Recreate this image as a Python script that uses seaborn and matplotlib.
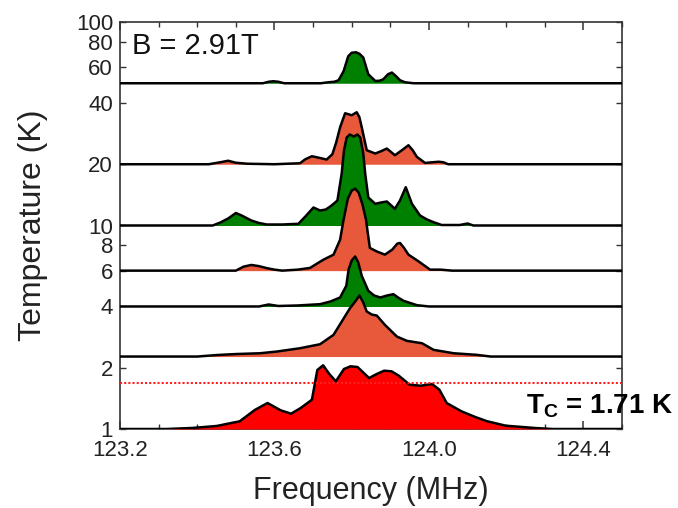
import numpy as np
import pandas as pd
import matplotlib
matplotlib.use("Agg")
import matplotlib.pyplot as plt
import seaborn as sns
from matplotlib.ticker import FixedLocator, FixedFormatter, NullLocator, MultipleLocator

# ---------------- data ----------------
# baseline temperatures (K) of each spectrum, top to bottom
temps = [50, 20, 10, 6, 4, 2.27, 1.0]
fill_colors = ["#008000", "#E8593C", "#008000", "#E8593C", "#008000", "#E8593C", "#FF0000"]

freq_50K = [123.2, 123.57, 123.585, 123.597, 123.61, 123.625, 123.72, 123.74, 123.755, 123.766,
            123.779, 123.791, 123.80, 123.811, 123.82, 123.83, 123.843, 123.861, 123.872, 123.882,
            123.894, 123.904, 123.915, 123.925, 123.938, 123.96, 124.5]
int_50K = [0, 0, 1.5, 2, 1.5, 0, 0, 1, 1.5, 3, 12, 27, 30.5, 31, 29.5, 25.7, 9, 2.3, 2.5, 4, 9,
           10.7, 7, 3, 1, 0, 0]

freq_20K = [123.2, 123.43, 123.46, 123.48, 123.50, 123.53, 123.60, 123.666, 123.68, 123.697,
            123.715, 123.735, 123.75, 123.76, 123.77, 123.783, 123.80, 123.813, 123.82, 123.826,
            123.839, 123.861, 123.876, 123.891, 123.912, 123.93, 123.947, 123.958, 123.969, 123.99,
            124.01, 124.025, 124.037, 124.05, 124.5]
int_20K = [0, 0, 2, 3.5, 1.5, 0.5, 0, 1, 5, 8, 6.5, 4.7, 10, 22, 37, 51, 49, 52, 47, 37, 14,
           10.7, 13, 15.7, 9, 14, 19, 14, 7.3, 1.3, 2, 2.5, 2, 0, 0]

freq_10K = [123.2, 123.44, 123.46, 123.48, 123.50, 123.515, 123.54, 123.56, 123.58, 123.62,
            123.662, 123.68, 123.701, 123.718, 123.733, 123.748, 123.763, 123.774, 123.78, 123.787,
            123.795, 123.805, 123.815, 123.822, 123.83, 123.835, 123.843, 123.861, 123.876,
            123.891, 123.912, 123.925, 123.94, 123.956, 123.977, 123.995, 124.012, 124.033,
            124.08, 124.10, 124.115, 124.5]
int_10K = [0, 0, 3, 7, 12.5, 10, 5, 2.5, 1, 1, 1.7, 9, 18, 15, 16, 20, 25, 51.7, 75, 88, 91, 89,
           91, 88, 72, 51.7, 28, 21.7, 23, 24, 16.7, 25, 38.3, 21.7, 10, 6, 3.3, 0.5, 0.5, 2, 0, 0]

freq_6K = [123.2, 123.50, 123.52, 123.54, 123.56, 123.58, 123.60, 123.62, 123.66, 123.692,
           123.71, 123.727, 123.753, 123.770, 123.779, 123.79, 123.80, 123.809, 123.818, 123.828,
           123.837, 123.847, 123.866, 123.886, 123.905, 123.918, 123.925, 123.935, 123.947,
           123.973, 124.003, 124.03, 124.06, 124.5]
int_6K = [0, 0, 4, 5.7, 4.5, 2.5, 1, 0, 1, 2.7, 7, 11, 16, 31, 51, 72, 80, 82, 78, 66, 51, 22.7,
          19, 16, 21, 27, 27.7, 23, 16, 9.3, 1, 1, 0, 0]

freq_4K = [123.2, 123.56, 123.585, 123.61, 123.66, 123.718, 123.745, 123.77, 123.786, 123.792,
           123.80, 123.809, 123.817, 123.826, 123.843, 123.858, 123.874, 123.892, 123.908,
           123.92, 123.934, 123.969, 124.0, 124.5]
int_4K = [0, 0, 2, 0.5, 1, 2.3, 5, 9, 20.7, 37, 46, 50, 44, 30.7, 15.7, 11, 9, 11, 12.3, 9, 5.7,
          1.3, 0, 0]

freq_2K = [123.2, 123.40, 123.45, 123.50, 123.563, 123.606, 123.666, 123.718, 123.753, 123.779,
           123.795, 123.809, 123.82, 123.83, 123.839, 123.852, 123.865, 123.886, 123.917, 123.943,
           123.982, 124.012, 124.064, 124.124, 124.16, 124.5]
int_2K = [0, 0, 1.5, 2.5, 3.3, 5, 8.3, 12.3, 21.7, 38, 48, 55, 61, 54, 45, 42, 41, 31.7, 20, 15.7,
          13.3, 6.7, 3.3, 1.7, 0, 0]

freq_1K = [123.2, 123.32, 123.386, 123.45, 123.51, 123.549, 123.582, 123.616, 123.643, 123.668,
           123.697, 123.711, 123.726, 123.742, 123.759, 123.78, 123.797, 123.815, 123.845, 123.865,
           123.884, 123.903, 123.922, 123.95, 123.979, 124.008, 124.027, 124.046, 124.084, 124.12,
           124.151, 124.199, 124.275, 124.32, 124.5]
int_1K = [0, 0, 1, 3, 7.7, 19, 26, 18.7, 15.3, 21, 29.3, 59, 63.7, 55, 47.7, 60, 62.7, 62, 51, 55,
          58.3, 57.7, 53.3, 44.3, 43.3, 45, 39.3, 26, 17.7, 12, 7.7, 3.3, 1, 0, 0]

spectra_freq = [freq_50K, freq_20K, freq_10K, freq_6K, freq_4K, freq_2K, freq_1K]
spectra_int = [int_50K, int_20K, int_10K, int_6K, int_4K, int_2K, int_1K]

tc_value = 1.69
y_ticks = [1, 2, 4, 6, 8, 10, 20, 40, 60, 80, 100]
x_major = [123.2, 123.6, 124.0, 124.4]
x_labels = ["123.2", "123.6", "124.0", "124.4"]

# intensity units -> decades of the log temperature axis
DECADES_PER_UNIT = 1 / 203.5

# ---------------- plotting ----------------
sns.set_theme(style="ticks")
plt.rcParams["font.family"] = ["Liberation Sans", "DejaVu Sans"]
plt.rcParams["mathtext.fontset"] = "custom"
plt.rcParams["mathtext.rm"] = "Liberation Sans"
plt.rcParams["mathtext.bf"] = "Liberation Sans:bold"

fig = plt.figure(figsize=(6.78, 5.08), dpi=100)
ax = fig.add_axes([120 / 678, 79 / 508, 502 / 678, 407 / 508])

rows = []
for i, (T0, f, a) in enumerate(zip(temps, spectra_freq, spectra_int)):
    y = T0 * 10 ** (np.asarray(a) * DECADES_PER_UNIT)
    rows.append(pd.DataFrame({"freq": f, "temp": y, "spec": i, "base": T0}))
df = pd.concat(rows, ignore_index=True)

for i, (T0, col) in enumerate(zip(temps, fill_colors)):
    d = df[df["spec"] == i]
    z = 2 + 2 * i
    ax.fill_between(d["freq"], T0, d["temp"], color=col, linewidth=0, zorder=z)
    sns.lineplot(data=d, x="freq", y="temp", ax=ax, color="black", linewidth=1.8,
                 estimator=None, sort=False, zorder=z + 1)

ax.axhline(tc_value, color="#FF2020", linestyle=(0, (1, 1)), linewidth=1.5, zorder=30)

ax.set_yscale("log")
ax.set_ylim(1, 100)
ax.set_xlim(123.2, 124.5)
ax.yaxis.set_major_locator(FixedLocator(y_ticks))
ax.yaxis.set_major_formatter(FixedFormatter([str(t) for t in y_ticks]))
ax.yaxis.set_minor_locator(NullLocator())
ax.xaxis.set_major_locator(FixedLocator(x_major))
ax.xaxis.set_major_formatter(FixedFormatter(x_labels))
ax.xaxis.set_minor_locator(MultipleLocator(0.1))

ax.tick_params(axis="both", which="both", direction="in", top=True, right=True,
               colors="#333333", labelcolor="#222222")
ax.tick_params(axis="x", which="major", length=6, width=1.1, labelsize=16, pad=8)
ax.tick_params(axis="x", which="minor", length=3.5, width=1.0)
ax.tick_params(axis="y", which="major", length=4, width=1.0, labelsize=16, pad=5)
for sp in ax.spines.values():
    sp.set_color("#333333")
    sp.set_linewidth(1.2)

ax.set_xlabel("Frequency (MHz)", fontsize=22, labelpad=11, color="#222222")
ax.set_ylabel("Temperature (K)", fontsize=23, labelpad=20, color="#222222")

ax.text(0.024, 0.975, "B = 2.91T", transform=ax.transAxes, fontsize=21,
        ha="left", va="top", color="#111111", zorder=40)
ax.text(1.102, 0.039, r"T$_\mathbf{C}$ = 1.71 K", transform=ax.transAxes, fontsize=20,
        fontweight="bold", ha="right", va="baseline", color="black", zorder=40, clip_on=False)

fig.savefig("out.png", dpi=100)
